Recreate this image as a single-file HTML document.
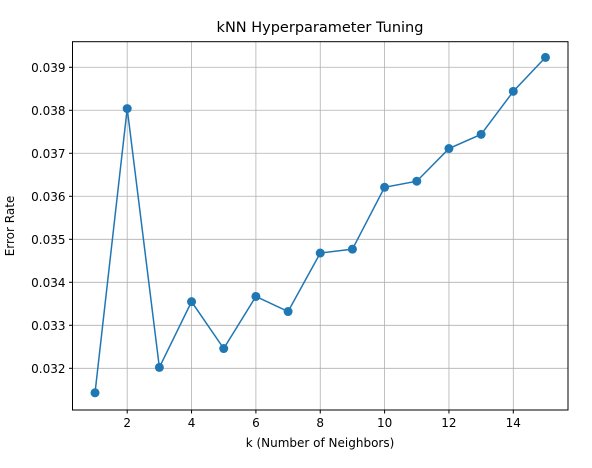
<!DOCTYPE html>
<html><head><meta charset="utf-8"><style>
body{margin:0;background:#fff}
svg text{font-family:"DejaVu Sans","Liberation Sans",sans-serif;fill:#000}
</style></head><body>
<svg id="chart" width="592" height="463">
<rect width="592" height="463" fill="#fff"/>
<g id="grid"></g>
<g id="ticks"></g>
<g id="marks"></g>
<rect x="72.5" y="41.7" width="495.5" height="368.3" fill="none" stroke="#000" stroke-width="1"/>
<text x="320" y="32" text-anchor="middle" font-size="14.5">kNN Hyperparameter Tuning</text>
<text x="320" y="447" text-anchor="middle" font-size="12">k (Number of Neighbors)</text>
<text transform="translate(14,226) rotate(-90)" text-anchor="middle" font-size="12">Error Rate</text>
</svg>
<script>
const kValues=[1,2,3,4,5,6,7,8,9,10,11,12,13,14,15];
const errorRates=[0.03143,0.03804,0.03202,0.03355,0.03246,0.03367,0.03332,0.03468,0.03477,0.03621,0.03635,0.03711,0.03744,0.03844,0.03923];
const xTicks=[2,4,6,8,10,12,14];
const yTicks=[0.032,0.033,0.034,0.035,0.036,0.037,0.038,0.039];
const NS="http://www.w3.org/2000/svg";
const L=72.5,R=568,T=41.7,B=410;
const xMin=0.3,xMax=15.7,yMin=0.03103,yMax=0.039595;
function xs(v){return L+(v-xMin)/(xMax-xMin)*(R-L);}
function ys(v){return B-(v-yMin)/(yMax-yMin)*(B-T);}
function mk(t,a){const e=document.createElementNS(NS,t);for(const k in a)e.setAttribute(k,a[k]);return e;}
const grid=document.getElementById('grid'),ticks=document.getElementById('ticks'),marks=document.getElementById('marks');
xTicks.forEach(v=>{const x=xs(v);
 const g=mk('line',{x1:x,x2:x,y1:T,y2:B,stroke:'#b0b0b0','stroke-width':0.8});
 
 grid.appendChild(g);
 ticks.appendChild(mk('line',{x1:x,x2:x,y1:B,y2:B+3.5,stroke:'#000'}));
 const t=mk('text',{x:x,y:B+17,'text-anchor':'middle','font-size':12});t.textContent=v;
 
 ticks.appendChild(t);});
yTicks.forEach(v=>{const y=ys(v);
 const g=mk('line',{x1:L,x2:R,y1:y,y2:y,stroke:'#b0b0b0','stroke-width':0.8});
 
 grid.appendChild(g);
 ticks.appendChild(mk('line',{x1:L-3.5,x2:L,y1:y,y2:y,stroke:'#000'}));
 const t=mk('text',{x:L-7,y:y+4.5,'text-anchor':'end','font-size':12});t.textContent=v.toFixed(3);
 
 ticks.appendChild(t);});
const pts=kValues.map((k,i)=>xs(k)+','+ys(errorRates[i])).join(' ');
const line=mk('polyline',{points:pts,fill:'none',stroke:'#1f77b4','stroke-width':1.5});

marks.appendChild(line);
kValues.forEach((k,i)=>{const c=mk('circle',{cx:xs(k),cy:ys(errorRates[i]),r:4.5,fill:'#1f77b4'});
 
 marks.appendChild(c);});
</script>
</body></html>
